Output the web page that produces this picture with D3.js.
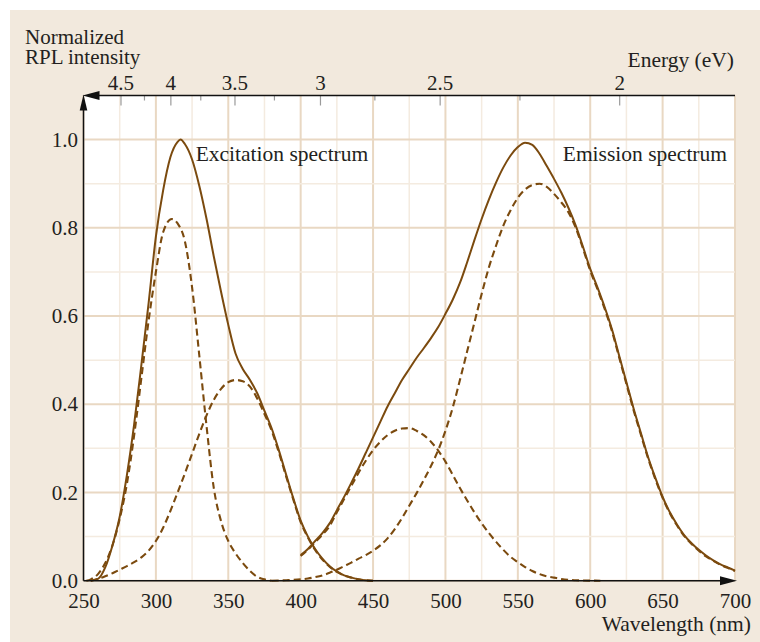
<!DOCTYPE html>
<html>
<head>
<meta charset="utf-8">
<script src="https://cdn.jsdelivr.net/npm/d3@7"></script>
<style>
body{margin:0;background:#fff;}
text{font-family:"Liberation Serif","Times New Roman",serif;fill:#231f20;}
</style>
</head>
<body>
<svg id="chart" width="760" height="642"></svg>
<script>
// data: [wavelength nm, normalized intensity]
var excTotal=[[255,0],[260,0.004],[265,0.03],[270,0.08],[275,0.145],[280,0.24],[285,0.355],[290,0.49],[295,0.63],[300,0.78],[305,0.885],[310,0.96],[315,0.995],[317,1.0],[320,0.99],[325,0.955],[330,0.895],[335,0.82],[340,0.735],[345,0.655],[350,0.58],[355,0.515],[360,0.48],[365,0.455],[370,0.425],[375,0.385],[380,0.345],[385,0.295],[390,0.24],[395,0.186],[400,0.136],[405,0.1],[410,0.072],[415,0.05],[420,0.033],[425,0.021],[430,0.012],[435,0.007],[440,0.003],[445,0.001],[450,0]]
var excPeak1=[[252,0],[255,0.003],[260,0.015],[265,0.04],[270,0.08],[275,0.14],[280,0.22],[285,0.33],[290,0.46],[295,0.59],[300,0.7],[305,0.79],[311,0.82],[315,0.81],[320,0.77],[325,0.665],[330,0.51],[335,0.35],[340,0.21],[345,0.135],[350,0.09],[355,0.062],[360,0.04],[365,0.022],[370,0.009],[375,0.003],[380,0]]
var excPeak2=[[255,0],[260,0.004],[265,0.01],[270,0.017],[275,0.025],[280,0.033],[285,0.042],[290,0.053],[295,0.068],[300,0.09],[305,0.12],[310,0.158],[315,0.2],[320,0.243],[325,0.288],[330,0.333],[335,0.375],[340,0.41],[345,0.435],[350,0.45],[355,0.455],[360,0.452],[365,0.44],[370,0.413],[375,0.378],[380,0.34],[385,0.29],[390,0.236],[395,0.183],[400,0.133],[405,0.098],[410,0.07],[415,0.048],[420,0.032],[425,0.02],[430,0.012],[435,0.007],[440,0.003],[445,0.001],[450,0]]

var emTotal=[[400,0.058],[405,0.072],[410,0.09],[415,0.108],[420,0.13],[425,0.16],[430,0.19],[435,0.222],[440,0.255],[445,0.29],[450,0.325],[455,0.36],[460,0.395],[465,0.425],[470,0.455],[475,0.48],[480,0.505],[485,0.527],[490,0.55],[495,0.575],[500,0.605],[505,0.637],[510,0.675],[515,0.722],[520,0.772],[525,0.82],[530,0.864],[535,0.903],[540,0.937],[545,0.964],[550,0.983],[555,0.993],[560,0.988],[565,0.968],[570,0.94],[575,0.911],[580,0.88],[585,0.845],[590,0.805],[595,0.757],[600,0.707],[605,0.665],[610,0.62],[615,0.57],[620,0.51],[625,0.45],[630,0.39],[635,0.335],[640,0.28],[645,0.233],[650,0.19],[655,0.155],[660,0.127],[665,0.103],[670,0.085],[675,0.07],[680,0.057],[685,0.046],[690,0.037],[695,0.03],[700,0.023]]
var emPeak1=[[400,0.056],[405,0.07],[410,0.087],[415,0.104],[420,0.124],[425,0.155],[430,0.185],[435,0.215],[440,0.245],[445,0.272],[450,0.296],[455,0.315],[460,0.33],[465,0.34],[470,0.345],[475,0.346],[480,0.34],[485,0.33],[490,0.315],[495,0.295],[500,0.27],[505,0.24],[510,0.21],[515,0.182],[520,0.155],[525,0.13],[530,0.108],[535,0.088],[540,0.07],[545,0.054],[550,0.042],[555,0.031],[560,0.022],[565,0.015],[570,0.01],[575,0.007],[580,0.004],[585,0.002],[590,0.001],[600,0.0002],[607,0]]
var emPeak2=[[380,0],[390,0.001],[400,0.003],[405,0.005],[410,0.008],[415,0.012],[420,0.018],[425,0.025],[430,0.033],[435,0.041],[440,0.05],[445,0.058],[450,0.068],[455,0.08],[460,0.096],[465,0.117],[470,0.142],[475,0.17],[480,0.198],[485,0.228],[490,0.26],[495,0.296],[500,0.34],[505,0.392],[510,0.455],[515,0.52],[520,0.585],[525,0.65],[530,0.71],[535,0.76],[540,0.805],[545,0.84],[550,0.868],[555,0.887],[560,0.897],[565,0.9],[570,0.893],[575,0.877],[580,0.858],[585,0.835],[590,0.8],[595,0.753],[600,0.703],[605,0.661],[610,0.616],[615,0.566],[620,0.506],[625,0.446],[630,0.386],[635,0.331],[640,0.277],[645,0.23],[650,0.188],[655,0.153],[660,0.125],[665,0.101],[670,0.083],[675,0.068],[680,0.055],[685,0.045],[690,0.036],[695,0.029],[700,0.022]]

// tick labels
var xTicks=[250,300,350,400,450,500,550,600,650,700]
var yTicks=[0,0.2,0.4,0.6,0.8,1.0]
var energyMajor=[4.5,4,3.5,3,2.5,2]
var energyMinor=[4.25,3.75,3.25,2.75,2.25]
var hc=1240

//size of things
var screen={width:760,height:642}
var plot={left:83.5,right:735,top:95.5,bottom:580.7}
var brown="#7b4a0e"

var svg=d3.select("#chart")

var x=d3.scaleLinear().domain([250,700]).range([plot.left,plot.right])
var y=d3.scaleLinear().domain([0,1.1]).range([plot.bottom,plot.top])

//panel + plot background
svg.append("rect")
    .attr("x",10).attr("y",10)
    .attr("width",screen.width-10).attr("height",screen.height-10)
    .attr("fill","#f2e9dd")
svg.append("rect")
    .attr("x",plot.left).attr("y",plot.top)
    .attr("width",plot.right-plot.left).attr("height",plot.bottom-plot.top)
    .attr("fill","#fff")

//grid
var grid=svg.append("g")
grid.selectAll(".vgrid")
    .data(d3.range(250,701,25))
    .enter().append("line")
    .attr("x1",function(d){return x(d)}).attr("x2",function(d){return x(d)})
    .attr("y1",plot.top).attr("y2",plot.bottom)
    .attr("stroke",function(d){return d%50==0?"#e9d8c3":"#f4ebe0"})
    .attr("stroke-width",function(d){return d%50==0?2:1.5})
grid.selectAll(".hgrid")
    .data(d3.range(0,11))
    .enter().append("line")
    .attr("x1",plot.left).attr("x2",plot.right)
    .attr("y1",function(i){return y(i/10)}).attr("y2",function(i){return y(i/10)})
    .attr("stroke",function(i){return i%2==0?"#e9d8c3":"#f4ebe0"})
    .attr("stroke-width",function(i){return i%2==0?2:1.5})

//curves
var line=d3.line()
    .x(function(d){return x(d[0])})
    .y(function(d){return y(d[1])})
    .curve(d3.curveMonotoneX)

var series=[
    {data:excPeak1,dash:"7,4"},
    {data:excPeak2,dash:"7,4"},
    {data:emPeak1,dash:"7,4"},
    {data:emPeak2,dash:"7,4"},
    {data:excTotal,dash:null},
    {data:emTotal,dash:null}
]
svg.append("g").selectAll("path")
    .data(series)
    .enter().append("path")
    .attr("d",function(s){return line(s.data)})
    .attr("fill","none")
    .attr("stroke",brown)
    .attr("stroke-width",function(s){return s.dash?2.1:2})
    .attr("stroke-dasharray",function(s){return s.dash})

//axes
var tickFont="21px", labelFont="21.5px"
var bottomAxis=d3.axisBottom(x).tickValues(xTicks).tickSize(0).tickPadding(12)
var gb=svg.append("g").attr("transform","translate(0,"+plot.bottom+")").call(bottomAxis)
gb.select(".domain").remove()
gb.selectAll("text").style("font-size",tickFont).attr("fill","#231f20")

var leftAxis=d3.axisLeft(y).tickValues(yTicks).tickSize(0).tickPadding(5.5).tickFormat(d3.format(".1f"))
var gl=svg.append("g").attr("transform","translate("+plot.left+",0)").call(leftAxis)
gl.select(".domain").remove()
gl.selectAll("text").style("font-size",tickFont).attr("fill","#231f20")

var topMinor=d3.axisTop(x).tickValues(energyMinor.map(function(e){return hc/e})).tickSize(-5).tickFormat("")
var gtm=svg.append("g").attr("transform","translate(0,"+plot.top+")").call(topMinor)
gtm.select(".domain").remove()
gtm.selectAll("line").attr("stroke","#9a9a9a").attr("stroke-width",1.2)

var topAxis=d3.axisTop(x).tickValues(energyMajor.map(function(e){return hc/e})).tickSize(-10).tickPadding(6)
    .tickFormat(function(l){return d3.format("")(Math.round(hc/l*100)/100)})
var gt=svg.append("g").attr("transform","translate(0,"+plot.top+")").call(topAxis)
gt.select(".domain").remove()
gt.selectAll("line").attr("stroke","#9a9a9a").attr("stroke-width",1.2)
gt.selectAll("text").style("font-size",tickFont).attr("fill","#231f20")

//axis lines with arrows
var axes=svg.append("g").attr("stroke","#111").attr("stroke-width",1.5)
axes.append("line").attr("x1",plot.left+10).attr("x2",plot.right).attr("y1",plot.top).attr("y2",plot.top)
axes.append("line").attr("x1",plot.left).attr("x2",plot.left).attr("y1",plot.bottom).attr("y2",plot.top+10)
axes.append("line").attr("x1",plot.left).attr("x2",plot.right-10).attr("y1",plot.bottom).attr("y2",plot.bottom)
var heads=svg.append("g").attr("fill","#111")
heads.append("path").attr("d","M"+(plot.left-1)+","+plot.top+"L"+(plot.left+16)+","+(plot.top-4.5)+"L"+(plot.left+16)+","+(plot.top+4.5)+"Z")
heads.append("path").attr("d","M"+plot.left+","+(plot.top-1)+"L"+(plot.left-3.8)+","+(plot.top+15)+"L"+(plot.left+3.8)+","+(plot.top+15)+"Z")
heads.append("path").attr("d","M"+(plot.right+2)+","+plot.bottom+"L"+(plot.right-15)+","+(plot.bottom-4.5)+"L"+(plot.right-15)+","+(plot.bottom+4.5)+"Z")

//labels
var labels=svg.append("g").style("font-size",labelFont)
var yTitle=labels.append("text").attr("x",25).attr("y",44).style("font-size","21px")
yTitle.append("tspan").attr("x",25).text("Normalized")
yTitle.append("tspan").attr("x",25).attr("dy",20).text("RPL intensity")
labels.append("text").attr("x",734).attr("y",67).attr("text-anchor","end").text("Energy (eV)")
labels.append("text").attr("x",751).attr("y",631).attr("text-anchor","end").text("Wavelength (nm)")
labels.append("text").attr("x",x(327.5)).attr("y",161).text("Excitation spectrum")
labels.append("text").attr("x",727).attr("y",161).attr("text-anchor","end").text("Emission spectrum")
</script>
</body>
</html>
